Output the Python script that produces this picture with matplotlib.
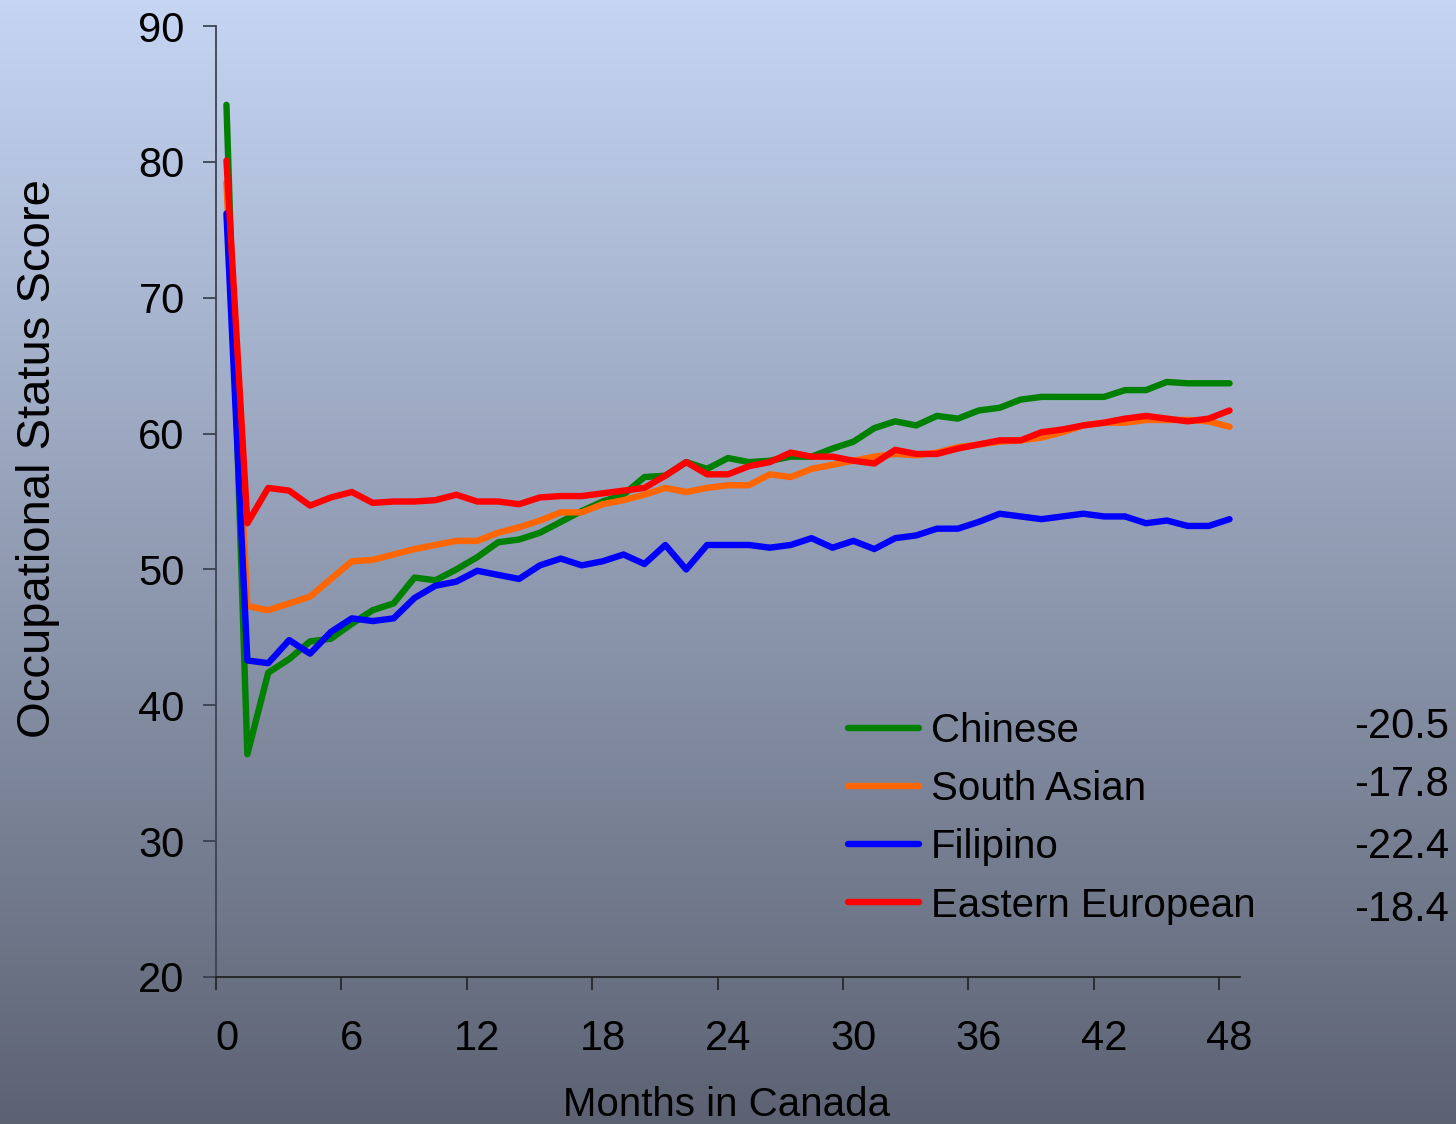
import numpy as np
import matplotlib
matplotlib.use("Agg")
from matplotlib import pyplot as plt

plt.rcParams['font.family'] = ['Liberation Sans', 'DejaVu Sans']

months = list(range(49))
tick_labels = ['0', '6', '12', '18', '24', '30', '36', '42', '48']
series_names = ['Chinese', 'South Asian', 'Filipino', 'Eastern European']
changes = ['-20.5', '-17.8', '-22.4', '-18.4']

chinese = [84.2, 36.4, 42.4, 43.4, 44.7, 44.9, 46.0, 47.0, 47.5, 49.4,
           49.2, 50.0, 50.9, 52.0, 52.2, 52.7, 53.5, 54.3, 55.0, 55.5,
           56.8, 56.9, 57.9, 57.4, 58.2, 57.9, 58.0, 58.3, 58.3, 58.9,
           59.4, 60.4, 60.9, 60.6, 61.3, 61.1, 61.7, 61.9, 62.5, 62.7,
           62.7, 62.7, 62.7, 63.2, 63.2, 63.8, 63.7, 63.7, 63.7]
south_asian = [78.5, 47.3, 47.0, 47.5, 48.0, 49.3, 50.6, 50.7, 51.1, 51.5,
               51.8, 52.1, 52.1, 52.7, 53.1, 53.6, 54.2, 54.2, 54.8, 55.1,
               55.5, 56.0, 55.7, 56.0, 56.2, 56.2, 57.0, 56.8, 57.4, 57.7,
               58.0, 58.3, 58.5, 58.4, 58.6, 59.0, 59.2, 59.4, 59.5, 59.7,
               60.1, 60.6, 60.8, 60.8, 61.0, 61.0, 61.0, 60.9, 60.5]
filipino = [76.2, 43.3, 43.1, 44.8, 43.8, 45.4, 46.4, 46.2, 46.4, 47.9,
            48.8, 49.1, 49.9, 49.6, 49.3, 50.3, 50.8, 50.3, 50.6, 51.1,
            50.4, 51.8, 50.0, 51.8, 51.8, 51.8, 51.6, 51.8, 52.3, 51.6,
            52.1, 51.5, 52.3, 52.5, 53.0, 53.0, 53.5, 54.1, 53.9, 53.7,
            53.9, 54.1, 53.9, 53.9, 53.4, 53.6, 53.2, 53.2, 53.7]
eastern_european = [80.1, 53.4, 56.0, 55.8, 54.7, 55.3, 55.7, 54.9, 55.0, 55.0,
                    55.1, 55.5, 55.0, 55.0, 54.8, 55.3, 55.4, 55.4, 55.6, 55.8,
                    56.0, 56.9, 57.9, 57.0, 57.0, 57.6, 57.9, 58.6, 58.3, 58.3,
                    58.0, 57.8, 58.8, 58.5, 58.5, 58.9, 59.2, 59.5, 59.5, 60.1,
                    60.3, 60.6, 60.8, 61.1, 61.3, 61.1, 60.9, 61.1, 61.7]

colors = ['#008000', '#FF6600', '#0000FF', '#FF0000']

fig = plt.figure(figsize=(14.56, 11.24), dpi=100)

# gradient background over the whole figure
bg = fig.add_axes([0, 0, 1, 1])
top = np.array([197, 213, 243]) / 255.0
bottom = np.array([92, 98, 114]) / 255.0
t = np.linspace(0, 1, 256)[:, None]
grad = (top[None, :] * (1 - t) + bottom[None, :] * t)[:, None, :]
bg.imshow(grad, aspect='auto', extent=[0, 1, 0, 1])
bg.axis('off')

ax = fig.add_axes([216 / 1456, 1 - 977 / 1124, 1024 / 1456, 951 / 1124])
ax.patch.set_alpha(0)

for name, vals, c in zip(series_names, [chinese, south_asian, filipino, eastern_european], colors):
    ax.plot(months, vals, color=c, lw=4.6, label=name, solid_capstyle='round', solid_joinstyle='round')

ax.set_xlim(-0.5, 48.5)
ax.set_ylim(20, 90)
ax.set_yticks(np.arange(20, 91, 10))
ax.tick_params(axis='y', length=9.5, width=1.2, pad=13, labelsize=30, color='#333a48')

# tick marks between categories, labels at category centres
ax.set_xticks(np.arange(-0.5, 48, 6))
ax.set_xticklabels([])
ax.set_xticks(np.arange(0, 49, 6), minor=True)
ax.set_xticklabels(tick_labels, minor=True)
ax.tick_params(axis='x', which='major', length=9.5, width=1.2, color='#222222')
ax.tick_params(axis='x', which='minor', length=0, pad=30, labelsize=30)

for side in ['top', 'right']:
    ax.spines[side].set_visible(False)
ax.spines['left'].set_color('#3c4252')
ax.spines['bottom'].set_color('#222222')
for side in ['left', 'bottom']:
    ax.spines[side].set_linewidth(1.3)

fig.text(38 / 1456, 1 - 459 / 1124, 'Occupational Status Score', rotation=90,
         ha='center', va='center', fontsize=34)
fig.text(727 / 1456, 1 - 1105 / 1124, 'Months in Canada', ha='center', va='center', fontsize=29)

leg = ax.legend(loc='upper left', bbox_to_anchor=(828 / 1456, 1 - 692 / 1124),
                bbox_transform=fig.transFigure, frameon=False, fontsize=29,
                handlelength=1.75, handletextpad=0.3, labelspacing=0.5, borderpad=0)

row_y = [727, 785, 847, 910]
for txt, y in zip(changes, row_y):
    fig.text(1449 / 1456, 1 - y / 1124, txt, ha='right', va='center', fontsize=30)

fig.savefig('out.png', dpi=100)
